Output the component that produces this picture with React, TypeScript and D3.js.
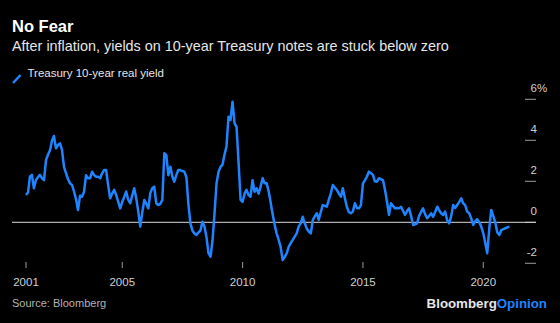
import React from "react";
import * as d3 from "d3";

// ---- data (monthly, Treasury 10-year real yield, %) ----
const startYear = 2001;
const y2001 = [1.33, 1.45, 2.22, 2.31, 1.66, 2.06, 2.2, 2.31, 2.15, 2.06, 3.04, 3.3];
const y2002 = [3.53, 4.0, 4.21, 3.61, 3.77, 3.85, 3.53, 2.7, 2.39, 2.1, 1.9, 1.82];
const y2003 = [1.49, 1.1, 0.6, 1.3, 1.25, 1.49, 2.3, 2.15, 2.15, 2.47, 2.3, 2.22];
const y2004 = [2.22, 2.15, 2.39, 2.55, 2.55, 1.8, 1.17, 1.4, 1.58, 1.33, 1.0, 0.68];
const y2005 = [1.0, 1.25, 1.5, 1.1, 0.93, 1.3, 1.66, 1.17, 0.52, -0.21, 0.5, 1.09];
const y2006 = [0.9, 0.68, 1.41, 1.66, 1.74, 0.93, 0.84, 0.9, 1.09, 3.37, 3.28, 2.3];
const y2007 = [2.71, 2.22, 1.98, 2.3, 2.55, 2.55, 2.5, 2.47, 2.2, 0.9, -0.05, -0.4];
const y2008 = [-0.55, -0.62, -0.5, -0.4, 0.03, -0.2, -0.7, -1.5, -1.68, -0.9, 0.44, 1.9];
const y2009 = [2.47, 2.71, 2.8, 3.3, 3.69, 5.15, 4.99, 5.88, 4.83, 4.66, 2.9, 1.1];
const y2010 = [1.0, 1.41, 1.58, 1.33, 1.25, 2.05, 1.49, 1.66, 1.4, 1.74, 2.15, 1.9];
const y2011 = [1.9, 1.5, 1.0, 0.4, -0.1, -0.54, -0.85, -1.2, -1.84, -1.7, -1.51, -1.2];
const y2012 = [-1.02, -0.86, -0.7, -0.54, -0.2, -0.05, 0.27, -0.05, -0.3, -0.45, -0.54, 0.11];
const y2013 = [0.3, 0.44, 0.11, 0.5, 0.84, 0.8, 0.76, 1.1, 1.41, 1.82, 1.7, 1.58];
const y2014 = [1.4, 1.25, 1.66, 1.2, 0.76, 0.5, 0.44, 0.52, 0.93, 0.7, 0.68, 0.84];
const y2015 = [1.9, 2.06, 2.22, 2.47, 2.4, 2.31, 2.0, 1.98, 2.15, 2.1, 2.06, 1.6];
const y2016 = [1.0, 0.36, 0.93, 0.8, 0.68, 0.7, 0.68, 0.76, 0.55, 0.36, 0.55, 0.68];
const y2017 = [0.3, -0.13, -0.1, -0.05, 0.3, 0.5, 0.68, 0.4, 0.2, 0.3, 0.44, 0.27];
const y2018 = [0.5, 0.76, 0.6, 0.44, 0.36, 0.52, 0.11, -0.05, 0.3, 0.84, 0.7, 0.84];
const y2019 = [1.0, 1.17, 0.93, 0.84, 0.52, 0.44, 0.2, -0.13, 0.05, 0.15, 0.0, -0.21];
const y2020 = [-0.54, -1.02, -1.51, -0.3, 0.6, 0.3, 0.0, -0.5, -0.62, -0.38, -0.33, -0.29];
const y2021 = [-0.25, -0.21];

const yearlyValues = [
  y2001, y2002, y2003, y2004, y2005, y2006, y2007, y2008, y2009, y2010, y2011,
  y2012, y2013, y2014, y2015, y2016, y2017, y2018, y2019, y2020, y2021,
];

const yTicks = [-2, 0, 2, 4, 6];
const xTickYears = [2001, 2005, 2010, 2015, 2020];

const title = "No Fear";
const subtitle = "After inflation, yields on 10-year Treasury notes are stuck below zero";
const legendLabel = "Treasury 10-year real yield";
const source = "Source: Bloomberg";

const W = 560;
const H = 323;
const BLUE = "#1f84ff";
const FONT = "'Liberation Sans', Arial, Helvetica, sans-serif";

type Pt = { date: Date; value: number };

export default function App() {
  const data: Pt[] = [];
  yearlyValues.forEach((vals, yi) => {
    vals.forEach((v, mi) => {
      data.push({ date: new Date(startYear + yi, mi, 1), value: v });
    });
  });

  const x = d3
    .scaleTime()
    .domain([new Date(2001, 0, 1), new Date(2021, 0, 1)])
    .range([26, 507.4]);
  const y = d3.scaleLinear().domain([-2, 6]).range([263.3, 99.3]);

  const line = d3
    .line<Pt>()
    .x((d) => x(d.date))
    .y((d) => y(d.value))
    .curve(d3.curveLinear);

  return (
    <svg
      width={W}
      height={H}
      style={{ position: "fixed", left: 0, top: 0, background: "#000" }}
      fontFamily={FONT}
    >
      <rect x={0} y={0} width={W} height={H} fill="#000" />
      <text x={12} y={31.5} fill="#fff" fontSize={16.5} fontWeight="bold">
        {title}
      </text>
      <text x={12} y={50.5} fill="#e6e6e6" fontSize={14.4}>
        {subtitle}
      </text>
      {/* legend */}
      <line x1={13} y1={83} x2={20.5} y2={75} stroke={BLUE} strokeWidth={2.5} />
      <text x={27.5} y={77} fill="#e6e6e6" fontSize={11.5}>
        {legendLabel}
      </text>

      {/* y axis */}
      {yTicks.map((t) => (
        <g key={t}>
          <line x1={525} x2={536} y1={y(t)} y2={y(t)} stroke="#9a9a9a" strokeWidth={1} />
          <text x={537} y={y(t) - 7} fill="#cfcfcf" fontSize={11.5} textAnchor="end">
            {t}
          </text>
          {t === 6 && (
            <text x={537} y={y(t) - 7} fill="#cfcfcf" fontSize={11.5}>
              %
            </text>
          )}
        </g>
      ))}

      {/* x axis */}
      {xTickYears.map((yr) => {
        const xp = x(new Date(yr, 0, 1));
        return (
          <g key={yr}>
            <line x1={xp} x2={xp} y1={262} y2={268} stroke="#9a9a9a" strokeWidth={1} />
            <text x={xp} y={286} fill="#cfcfcf" fontSize={11.5} textAnchor="middle">
              {yr}
            </text>
          </g>
        );
      })}

      {/* zero line */}
      <line x1={12} x2={536} y1={y(0)} y2={y(0)} stroke="#d9d9d9" strokeWidth={1} />

      {/* series */}
      <path d={line(data) || ""} fill="none" stroke={BLUE} strokeWidth={2.5} strokeLinejoin="round" />

      {/* footer */}
      <text x={12} y={307} fill="#b3b3b3" fontSize={11}>
        {source}
      </text>
      <text x={547} y={308} fontSize={13.3} fontWeight="bold" textAnchor="end">
        <tspan fill="#e6e6e6">Bloomberg</tspan>
        <tspan fill={BLUE}>Opinion</tspan>
      </text>
    </svg>
  );
}
